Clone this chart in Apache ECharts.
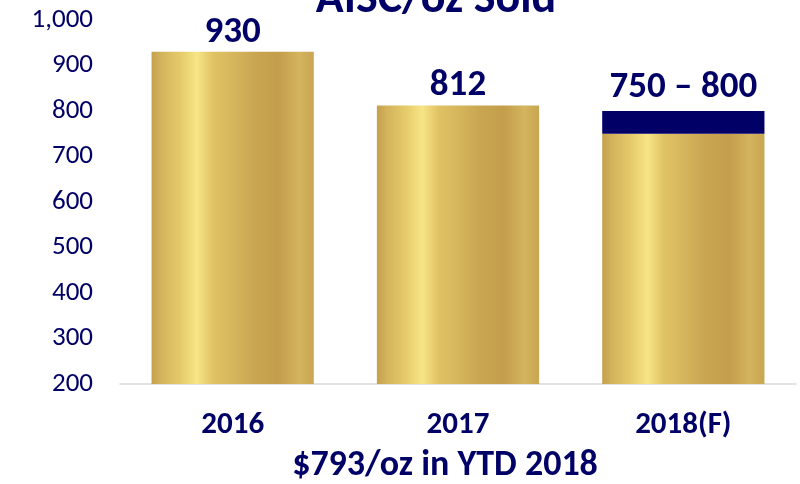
<!DOCTYPE html>
<html>
<head>
<meta charset="utf-8">
<script src="https://cdn.jsdelivr.net/npm/echarts@6/dist/echarts.min.js"></script>
<style>
  html, body { margin: 0; padding: 0; background: #fff; }
  #chart { width: 800px; height: 484px; }
</style>
</head>
<body>
<div id="chart"></div>
<script>
// All-in sustaining cost per ounce sold
const categories = ['2016', '2017', '2018(F)'];
const costLow = [930, 812, 750];   // solid gold bars
const costHigh = [930, 812, 800];  // upper end of guidance range
const yTicks = [200, 300, 400, 500, 600, 700, 800, 900, 1000];

const NAVY = '#000066';
const FONT = 'Carlito, Lato, "Open Sans", sans-serif';

const rangePart = costHigh.map((h, i) => h - costLow[i]);
const labelText = costLow.map((l, i) => l === costHigh[i] ? String(l) : l + ' \u2013 ' + costHigh[i]);

// brushed-gold look: vertical light/dark bands across each bar
const gold = new echarts.graphic.LinearGradient(0, 0, 1, 0, [
  { offset: 0.00, color: '#c4a04c' },
  { offset: 0.06, color: '#d3b35c' },
  { offset: 0.18, color: '#e6cb6a' },
  { offset: 0.28, color: '#f7e586' },
  { offset: 0.38, color: '#e0c264' },
  { offset: 0.50, color: '#d6b65d' },
  { offset: 0.64, color: '#c9a551' },
  { offset: 0.78, color: '#c39d4b' },
  { offset: 0.91, color: '#d4b45e' },
  { offset: 1.00, color: '#c9a651' }
]);

const chart = echarts.init(document.getElementById('chart'));
chart.setOption({
  animation: false,
  title: {
    text: 'AISC/oz Sold',
    left: 431,
    textAlign: 'center',
    top: -28,
    textStyle: { fontFamily: FONT, fontWeight: 'bold', fontSize: 46, color: NAVY }
  },
  graphic: [{
    type: 'text',
    x: 445,
    y: 466,
    style: {
      text: '$793/oz in YTD 2018',
      font: 'bold 36px ' + FONT,
      fill: NAVY,
      align: 'center',
      verticalAlign: 'middle'
    }
  }],
  grid: { left: 120, right: 4, top: 20, bottom: 100 },
  xAxis: {
    type: 'category',
    data: categories,
    axisLine: { lineStyle: { color: '#d9d9d9', width: 1.5 } },
    axisTick: { length: 10, lineStyle: { color: '#d9d9d9', width: 1.5 } },
    axisLabel: { margin: 26, fontFamily: FONT, fontWeight: 'bold', fontSize: 31, color: NAVY }
  },
  yAxis: {
    type: 'value',
    min: yTicks[0],
    max: yTicks[yTicks.length - 1],
    interval: 100,
    splitLine: { show: false },
    axisLine: { show: false },
    axisTick: { show: false },
    axisLabel: {
      margin: 27,
      fontFamily: FONT,
      fontSize: 27,
      color: NAVY,
      formatter: v => v.toLocaleString('en-US')
    }
  },
  series: [
    {
      type: 'bar',
      stack: 'cost',
      data: costLow,
      barWidth: '72%',
      itemStyle: { color: gold },
      label: {
        show: true,
        position: 'top',
        distance: 1,
        formatter: p => rangePart[p.dataIndex] > 0 ? '' : labelText[p.dataIndex],
        fontFamily: FONT, fontWeight: 'bold', fontSize: 37, color: NAVY
      }
    },
    {
      type: 'bar',
      stack: 'cost',
      data: rangePart,
      barWidth: '72%',
      itemStyle: { color: NAVY },
      label: {
        show: true,
        position: 'top',
        distance: 5,
        formatter: p => rangePart[p.dataIndex] > 0 ? labelText[p.dataIndex] : '',
        fontFamily: FONT, fontWeight: 'bold', fontSize: 37, color: NAVY
      }
    }
  ]
});
</script>
</body>
</html>
